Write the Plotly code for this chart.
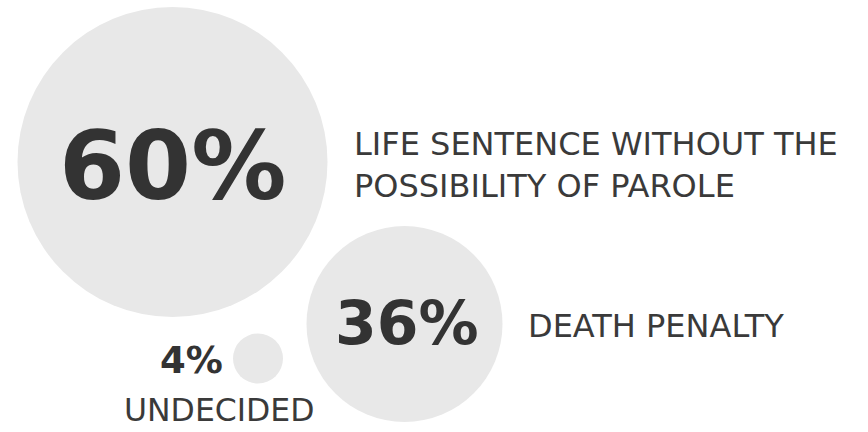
import plotly.graph_objects as go

labels = ["LIFE SENTENCE WITHOUT THE<br>POSSIBILITY OF PAROLE", "DEATH PENALTY", "UNDECIDED"]
shares = [60, 36, 4]
value_text = [f"{v}%" for v in shares]

# layout (pixel-space design positions)
cx = [172.5, 404.5, 258]
cy = [162, 324, 358.5]
diam = [310, 196, 50]
pct_x = [172, 407, 191]
pct_y = [166, 323, 360]
pct_size = [95, 60, 37]

fig = go.Figure()
fig.add_trace(go.Scatter(
    x=cx, y=cy, mode="markers",
    marker=dict(size=diam, color="#e8e8e8", opacity=1, line=dict(width=0), sizemode="diameter"),
    hoverinfo="skip", showlegend=False,
))
for i in range(3):
    fig.add_annotation(x=pct_x[i], y=pct_y[i], text=f"<b>{value_text[i]}</b>", showarrow=False,
                       xanchor="center", yanchor="middle",
                       font=dict(family="DejaVu Sans", size=pct_size[i], color="#333333"))
label_font = dict(family="DejaVu Sans", size=32, color="#3a3a3a")
fig.add_annotation(x=352, y=165, text=labels[0], showarrow=False, xanchor="left", yanchor="middle",
                   align="left", font=label_font)
fig.add_annotation(x=526, y=326, text=labels[1], showarrow=False, xanchor="left", yanchor="middle",
                   align="left", font=label_font)
fig.add_annotation(x=219, y=410, text=labels[2], showarrow=False, xanchor="center", yanchor="middle",
                   align="center", font=dict(family="DejaVu Sans", size=31.5, color="#3a3a3a"))

fig.update_layout(
    width=868, height=432, margin=dict(l=0, r=0, t=0, b=0),
    paper_bgcolor="white", plot_bgcolor="white",
    xaxis=dict(range=[0, 868], visible=False, fixedrange=True),
    yaxis=dict(range=[432, 0], visible=False, fixedrange=True),
)
fig.write_html("out.html", config={"displayModeBar": False},
               post_script="document.body.style.margin='0';document.body.style.overflow='hidden';")
